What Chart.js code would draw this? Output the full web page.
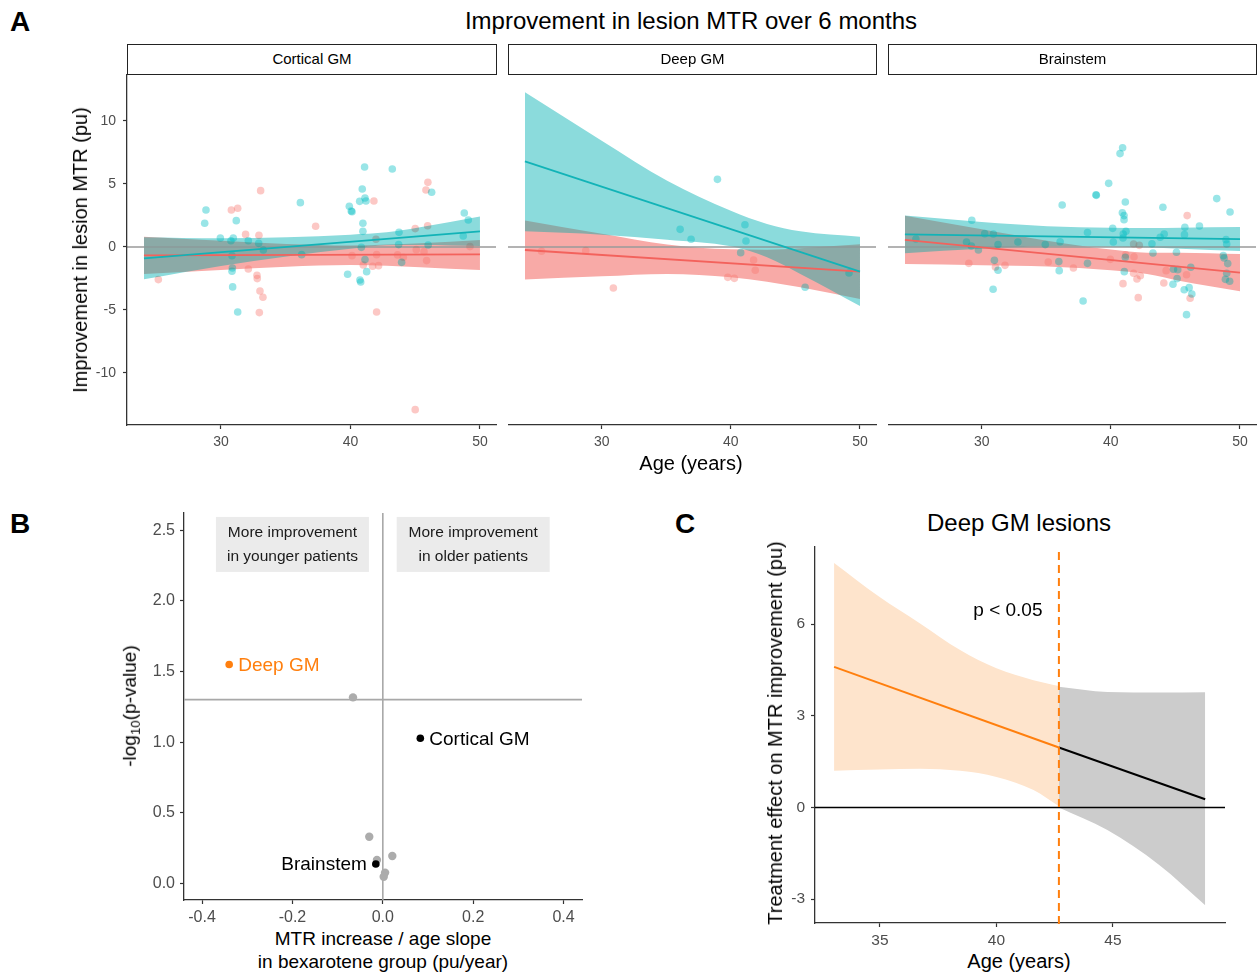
<!DOCTYPE html>
<html>
<head>
<meta charset="utf-8">
<title>Improvement in lesion MTR over 6 months</title>
<script src="https://cdn.jsdelivr.net/npm/chart.js@4.4.1/dist/chart.umd.min.js"></script>
<style>
  body { margin: 0; background: #fff; }
  #fig { position: relative; width: 1259px; height: 973px; overflow: hidden;
         font-family: "Liberation Sans", Arial, sans-serif; color: #000; }
  #fig canvas { position: absolute; }
  .lbl { position: absolute; white-space: nowrap; line-height: 1; transform: translate(-50%, -50%); }
  .rot { transform: translate(-50%, -50%) rotate(-90deg); }
  .letter { font-weight: bold; font-size: 28px; }
  .strip { position: absolute; top: 44px; height: 31px; box-sizing: border-box; border: 1.5px solid #222;
           font-size: 15px; line-height: 28px; text-align: center; background: #fff; }
  sub { font-size: 70%; vertical-align: -4px; }
</style>
</head>
<body>
<div id="fig">
  <canvas id="a1" width="420" height="380" style="left:80px;top:74px"></canvas>
  <canvas id="a2" width="372" height="380" style="left:508px;top:74px"></canvas>
  <canvas id="a3" width="371" height="380" style="left:888px;top:74px"></canvas>
  <canvas id="b" width="456" height="420" style="left:130px;top:505px"></canvas>
  <canvas id="c" width="459" height="410" style="left:770px;top:540px"></canvas>

  <div class="lbl letter" style="left:20px;top:22px">A</div>
  <div class="lbl letter" style="left:20px;top:524px">B</div>
  <div class="lbl letter" style="left:685px;top:524px">C</div>

  <div class="lbl" style="left:691px;top:21px;font-size:24px">Improvement in lesion MTR over 6 months</div>
  <div class="strip" style="left:127px;width:370px">Cortical GM</div>
  <div class="strip" style="left:508px;width:369px">Deep GM</div>
  <div class="strip" style="left:888px;width:369px">Brainstem</div>
  <div class="lbl rot" style="left:80px;top:250px;font-size:20px">Improvement in lesion MTR (pu)</div>
  <div class="lbl" style="left:691px;top:463px;font-size:20px">Age (years)</div>

  <div class="lbl rot" style="left:131px;top:706px;font-size:19px">-log<sub>10</sub>(p-value)</div>
  <div class="lbl" style="left:383px;top:938px;font-size:19px">MTR increase / age slope</div>
  <div class="lbl" style="left:383px;top:961px;font-size:19px">in bexarotene group (pu/year)</div>

  <div class="lbl" style="left:1019px;top:523px;font-size:24px">Deep GM lesions</div>
  <div class="lbl rot" style="left:775px;top:733px;font-size:20px">Treatment effect on MTR improvement (pu)</div>
  <div class="lbl" style="left:1019px;top:961px;font-size:20px">Age (years)</div>
</div>

<script>
const FONT = '"Liberation Sans", Arial, sans-serif';

// ---------- panel A : improvement vs age, per region ----------
const ageTicks = [30, 40, 50];
const mtrTicks = [-10, -5, 0, 5, 10];
const fitAges = [24.05, 50];
const bandAges = [24.05, 30, 35.07, 40, 42.8, 45.38, 50];

// cortical GM
const cortTeal = [[28.84,2.94],[28.74,1.88],[31.18,2.09],[29.95,0.71],[30.95,0.71],[30.77,0.50],[30.85,-0.69],
  [30.85,-1.93],[30.88,-1.67],[30.9,-3.17],[31.29,-5.16],[36.13,3.52],[39.91,3.23],[40.06,2.86],[40.12,2.80],
  [41.09,6.35],[43.23,6.19],[40.91,4.60],[40.71,3.62],[41.12,3.89],[41.2,3.65],[46.27,4.34],[40.96,1.88],
  [40.96,1.24],[40.84,-0.03],[39.78,-2.17],[40.73,-2.62],[40.79,-2.78],[41.25,-1.96],[43.75,1.16],[48.79,2.70],
  [49.1,2.14],[48.71,0.87],[46.0,0.16],[43.72,0.19],[43.95,-1.22],[32.11,0.50],[32.91,0.29],[33.27,-0.24],
  [36.23,-0.61],[41.12,-1.0]];
const cortRed = [[25.16,-2.59],[30.8,2.94],[31.29,3.07],[33.06,4.47],[31.9,1.0],[32.93,0.93],[32.11,-1.75],
  [32.78,-2.25],[32.8,-2.51],[33.01,-3.49],[33.24,-3.99],[32.96,-5.21],[37.31,1.64],[41.81,3.65],[40.12,-0.69],
  [41.71,-1.53],[42.17,-1.48],[42.02,-0.61],[42.02,-5.16],[45.0,1.46],[45.83,4.52],[45.98,5.13],[45.96,1.69],
  [45.88,-1.08],[45.68,-0.37],[45.0,-12.91],[43.64,-0.63],[44.08,-0.82],[49.23,0.03],[41.97,0.61],[40.99,-1.43],
  [45.08,-0.21]];
const cortTealFit = [-0.9, 1.24];
const cortRedFit = [-0.66, -0.58];
const cortTealHi = [0.77, 0.69, 0.77, 0.98, 1.16, 1.56, 2.41];
const cortTealLo = [-2.57, -1.51, -0.75, -0.15, 0.13, 0.16, 0.07];
const cortRedHi = [0.82, 0.50, 0.24, 0.11, 0.19, 0.29, 0.56];
const cortRedLo = [-2.14, -1.83, -1.56, -1.43, -1.48, -1.61, -1.83];

// deep GM
const deepTeal = [[38.96,5.37],[36.07,1.40],[41.09,1.77],[41.17,0.48],[36.92,0.61],[40.76,-0.45],[45.75,-3.2],[49.15,-2.06]];
const deepRed = [[25.34,-0.34],[28.76,-0.29],[30.9,-3.25],[39.76,-2.41],[40.27,-2.49],[41.76,-1.03],[41.89,-1.85]];
const deepTealFit = [6.8, -1.96];
const deepRedFit = [-0.24, -1.96];
const deepTealHi = [12.28, 8.44, 5.26, 2.88, 1.83, 1.24, 0.82];
const deepTealLo = [1.24, 0.98, 0.58, 0.05, -0.82, -2.14, -4.68];
const deepRedHi = [2.11, 1.06, 0.20, -0.19, -0.21, -0.10, 0.21];
const deepRedLo = [-2.59, -2.33, -2.14, -2.41, -2.75, -3.20, -4.13];

// brainstem
const brTeal = [[40.91,7.88],[40.71,7.41],[39.83,5.05],[38.85,4.15],[38.87,4.1],[36.23,3.33],[41.12,3.57],[44.03,3.15],
  [48.2,3.84],[49.23,2.78],[40.89,2.72],[41.02,2.49],[41.02,2.17],[29.23,2.12],[40.14,1.48],[41.17,1.24],[45.73,1.56],
  [46.86,1.67],[38.19,1.14],[30.23,1.06],[30.9,1.03],[40.96,1.03],[40.94,0.71],[44.13,1.03],[43.82,0.77],[40.19,0.40],
  [36.07,0.42],[43.18,0.26],[48.92,0.58],[48.97,0.24],[43.26,-0.48],[45.08,-0.42],[36.0,-1.88],[31.26,-1.85],
  [30.88,-3.36],[37.85,-4.29],[44.81,-2.96],[45.68,-3.39],[46.06,-3.23],[46.27,-3.73],[45.86,-5.37],[41.04,-1.96],
  [24.9,0.63],[28.82,0.4],[29.2,0.08],[29.74,-0.24],[31.26,0.19],[30.98,-1.06],[32.8,0.4],[34.92,0.19],[35.97,-1.16],
  [38.19,-1.3],[41.12,-0.82],[44.85,-1.77],[45.18,-1.8],[45.13,-2.51],[45.7,0.98],[46.19,-1.61],[48.71,-0.69],
  [48.77,-0.87],[49.05,-1.32],[48.97,-2.09],[48.87,-2.57],[49.2,-2.72]];
const brRed = [[45.91,2.49],[29.0,-1.3],[31.06,-1.59],[31.8,-1.46],[35.15,-1.19],[37.1,-1.67],[39.96,-0.98],
  [41.15,-0.63],[41.79,-0.77],[41.76,0.24],[42.2,0.13],[40.94,-2.91],[41.76,-2.09],[42.02,-2.54],[42.28,-2.28],
  [42.12,-4.02],[44.1,-2.86],[45.86,-2.2],[46.14,-4.07],[44.28,-1.88]];
const brTealFit = [1.0, 0.63];
const brRedFit = [0.56, -2.04];
const brTealHi = [2.49, 1.98, 1.65, 1.53, 1.50, 1.53, 1.58];
const brTealLo = [-0.50, -0.15, 0.04, 0.02, -0.04, -0.14, -0.32];
const brRedHi = [2.48, 1.40, 0.50, -0.20, -0.45, -0.46, -0.56];
const brRedLo = [-1.35, -1.45, -1.55, -1.85, -2.15, -2.70, -3.52];

// ---------- panel B : slope vs significance ----------
const bSlopeTicks = [-0.4, -0.2, 0, 0.2, 0.4];
const bLogPTicks = [0, 0.5, 1, 1.5, 2, 2.5];
const bSlopeGrey = [-0.066, -0.03, 0.021, -0.013, 0.005, 0.002];
const bLogPGrey = [1.317, 0.33, 0.194, 0.165, 0.076, 0.047];
const bRegions = ['Deep GM', 'Cortical GM', 'Brainstem'];
const bSlopeMain = [-0.34, 0.083, -0.0155];
const bLogPMain = [1.55, 1.027, 0.137];

// ---------- panel C : treatment effect in deep GM ----------
const cAgeTicks = [35, 40, 45];
const cEffTicks = [-3, 0, 3, 6];
const cFitAges = [33.03, 42.68, 48.96];
const cFit = [4.6, 1.96, 0.27];
const cSigAges = [33.03, 34.97, 36.72, 38.44, 40.0, 41.59, 42.68];
const cSigHi = [8.0, 6.89, 6.02, 5.15, 4.55, 4.16, 3.97];
const cSigLo = [1.20, 1.24, 1.27, 1.20, 1.00, 0.57, 0.04];
const cNsAges = [42.68, 44.76, 47.0, 48.96];
const cNsHi = [3.95, 3.78, 3.76, 3.77];
const cNsLo = [0.0, -0.74, -1.89, -3.2];

const ORANGE = '#ff7f0e';
const TICK = '#4d4d4d';
const AXIS = '#333';

function pts(arr) { return arr.map(p => ({ x: p[0], y: p[1] })); }
function curve(xs, ys) { return xs.map((x, i) => ({ x: x, y: ys[i] })); }

function axis(min, max, tickVals, fmt, size, pad, fontSize, show) {
  return {
    type: 'linear', min: min, max: max, display: show,
    afterBuildTicks: s => { s.ticks = tickVals.map(v => ({ value: v })); },
    afterFit: s => {
      if (show) {
        if (s.isHorizontal()) s.height = size; else s.width = size;
      } else {
        s.width = 0; s.height = 0;
      }
      s.paddingTop = 0; s.paddingBottom = 0; s.paddingLeft = 0; s.paddingRight = 0;
    },
    grid: { drawOnChartArea: false, color: AXIS, tickColor: AXIS, tickLength: 4, tickWidth: 1.2 },
    border: { display: true, color: AXIS, width: 1.3 },
    ticks: { color: TICK, font: { family: FONT, size: fontSize }, padding: pad, maxRotation: 0,
             autoSkip: false, callback: fmt }
  };
}

const baseOpts = {
  responsive: false, animation: false, events: [],
  plugins: { legend: { display: false }, tooltip: { enabled: false }, filler: { drawTime: 'beforeDatasetsDraw' } }
};

function layoutPad(top, right) {
  return { autoPadding: false, padding: { top: top, right: right, left: 0, bottom: 0 } };
}

// ribbons and points are blended with "darken" so overlaps turn grey as in the figure
const facetBlend = {
  id: 'facetBlend',
  beforeDraw(chart) { chart.ctx.globalCompositeOperation = 'darken'; },
  beforeDatasetsDraw(chart) {
    const { ctx, chartArea: a, scales: { y } } = chart;
    const y0 = y.getPixelForValue(0);
    ctx.save();
    ctx.strokeStyle = '#9a9a9a';
    ctx.lineWidth = 1.6;
    ctx.beginPath(); ctx.moveTo(a.left, y0); ctx.lineTo(a.right, y0); ctx.stroke();
    ctx.restore();
  },
  beforeDatasetDraw(chart, args) {
    chart.ctx.globalCompositeOperation = chart.data.datasets[args.index].blend ? 'darken' : 'source-over';
  },
  afterDraw(chart) { chart.ctx.globalCompositeOperation = 'source-over'; }
};

function band(xs, ys, color, fillNext) {
  return { data: curve(xs, ys), fill: fillNext ? '+1' : false, backgroundColor: color,
           borderColor: 'rgba(0,0,0,0)', borderWidth: 0, pointRadius: 0,
           cubicInterpolationMode: 'monotone', blend: true };
}

function facet(id, f, showY) {
  return new Chart(document.getElementById(id), {
    type: 'line',
    data: {
      datasets: [
        { label: 'bexarotene fit', data: curve(fitAges, f.tealFit), borderColor: '#12b3b7', borderWidth: 1.8, pointRadius: 0 },
        { label: 'placebo fit', data: curve(fitAges, f.redFit), borderColor: '#f3625c', borderWidth: 1.8, pointRadius: 0 },
        { label: 'bexarotene', data: pts(f.teal), showLine: false, pointRadius: 3.8, pointBorderWidth: 0,
          pointBackgroundColor: 'rgba(0,191,196,0.4)', pointBorderColor: 'rgba(0,0,0,0)', blend: true },
        { label: 'placebo', data: pts(f.red), showLine: false, pointRadius: 3.8, pointBorderWidth: 0,
          pointBackgroundColor: 'rgba(248,118,109,0.4)', pointBorderColor: 'rgba(0,0,0,0)', blend: true },
        band(bandAges, f.tealHi, 'rgb(139,219,220)', true),
        band(bandAges, f.tealLo, 'rgb(139,219,220)', false),
        band(bandAges, f.redHi, 'rgb(248,170,167)', true),
        band(bandAges, f.redLo, 'rgb(248,170,167)', false)
      ]
    },
    options: Object.assign({}, baseOpts, {
      layout: layoutPad(0, id === 'a3' ? 3 : 4),
      scales: {
        x: axis(22.74, 51.24, ageTicks, v => String(v), 29, 5, 14, true),
        y: axis(-14.13, 13.73, mtrTicks, v => String(v), 47, 7, 14, showY)
      }
    }),
    plugins: [facetBlend]
  });
}

facet('a1', { teal: cortTeal, red: cortRed, tealFit: cortTealFit, redFit: cortRedFit,
              tealHi: cortTealHi, tealLo: cortTealLo, redHi: cortRedHi, redLo: cortRedLo }, true);
facet('a2', { teal: deepTeal, red: deepRed, tealFit: deepTealFit, redFit: deepRedFit,
              tealHi: deepTealHi, tealLo: deepTealLo, redHi: deepRedHi, redLo: deepRedLo }, false);
facet('a3', { teal: brTeal, red: brRed, tealFit: brTealFit, redFit: brRedFit,
              tealHi: brTealHi, tealLo: brTealLo, redHi: brRedHi, redLo: brRedLo }, false);

// ---------- panel B ----------
const bDecor = {
  id: 'bDecor',
  beforeDatasetsDraw(chart) {
    const { ctx, chartArea: a, scales: { x, y } } = chart;
    const x0 = x.getPixelForValue(0);
    const yS = y.getPixelForValue(-Math.log10(0.05));
    ctx.save();
    ctx.strokeStyle = '#a8a8a8';
    ctx.lineWidth = 1.6;
    ctx.beginPath();
    ctx.moveTo(x0, a.top); ctx.lineTo(x0, a.bottom);
    ctx.moveTo(a.left, yS); ctx.lineTo(a.right, yS);
    ctx.stroke();
    const boxes = [[-0.2, 'More improvement', 'in younger patients'], [0.2, 'More improvement', 'in older patients']];
    ctx.font = '15.5px ' + FONT;
    ctx.textAlign = 'center';
    ctx.textBaseline = 'middle';
    boxes.forEach(b => {
      const cx = x.getPixelForValue(b[0]), cy = y.getPixelForValue(2.4);
      ctx.fillStyle = '#ebebeb';
      ctx.fillRect(cx - 76.5, cy - 27.5, 153, 55);
      ctx.fillStyle = '#1a1a1a';
      ctx.fillText(b[1], cx, cy - 11.5);
      ctx.fillText(b[2], cx, cy + 12);
    });
    ctx.restore();
  },
  afterDatasetsDraw(chart) {
    const { ctx, scales: { x, y } } = chart;
    const colors = [ORANGE, '#000', '#000'];
    const side = [1, 1, -1];
    ctx.save();
    ctx.font = '19px ' + FONT;
    ctx.textBaseline = 'middle';
    bRegions.forEach((name, i) => {
      const px = x.getPixelForValue(bSlopeMain[i]), py = y.getPixelForValue(bLogPMain[i]);
      ctx.fillStyle = colors[i];
      ctx.textAlign = side[i] > 0 ? 'left' : 'right';
      ctx.fillText(name, px + side[i] * 9, py + 1);
    });
    ctx.restore();
  }
};

new Chart(document.getElementById('b'), {
  type: 'scatter',
  data: {
    datasets: [
      { label: 'highlighted', data: bSlopeMain.map((v, i) => ({ x: v, y: bLogPMain[i] })),
        pointRadius: 3.8, pointBorderWidth: 0, pointBackgroundColor: [ORANGE, '#000', '#000'] },
      { label: 'other regions', data: bSlopeGrey.map((v, i) => ({ x: v, y: bLogPGrey[i] })),
        pointRadius: 4.2, pointBorderWidth: 0, pointBackgroundColor: '#acacac' }
    ]
  },
  options: Object.assign({}, baseOpts, {
    layout: layoutPad(8, 4),
    scales: {
      x: axis(-0.44, 0.4408, bSlopeTicks, v => v.toFixed(1), 25, 4, 16, true),
      y: axis(-0.118, 2.6225, bLogPTicks, v => v.toFixed(1), 54, 5, 16, true)
    }
  }),
  plugins: [bDecor]
});

// ---------- panel C ----------
const cDecor = {
  id: 'cDecor',
  afterDatasetsDraw(chart) {
    const { ctx, chartArea: a, scales: { x, y } } = chart;
    const y0 = y.getPixelForValue(0);
    const xs = x.getPixelForValue(cFitAges[1]);
    ctx.save();
    ctx.strokeStyle = '#000';
    ctx.lineWidth = 1.6;
    ctx.beginPath(); ctx.moveTo(a.left, y0); ctx.lineTo(a.right, y0); ctx.stroke();
    ctx.strokeStyle = ORANGE;
    ctx.lineWidth = 2;
    ctx.setLineDash([8, 5]);
    ctx.beginPath(); ctx.moveTo(xs, a.top + 5); ctx.lineTo(xs, a.bottom + 3); ctx.stroke();
    ctx.setLineDash([]);
    ctx.fillStyle = '#000';
    ctx.font = '19px ' + FONT;
    ctx.textAlign = 'center';
    ctx.textBaseline = 'middle';
    ctx.fillText('p < 0.05', x.getPixelForValue(40.49), y.getPixelForValue(6.45));
    ctx.restore();
  }
};

new Chart(document.getElementById('c'), {
  type: 'line',
  data: {
    datasets: [
      { label: 'significant', data: curve(cFitAges.slice(0, 2), cFit.slice(0, 2)), borderColor: ORANGE, borderWidth: 2, pointRadius: 0 },
      { label: 'not significant', data: curve(cFitAges.slice(1), cFit.slice(1)), borderColor: '#000', borderWidth: 2, pointRadius: 0 },
      band(cSigAges, cSigHi, 'rgb(254,228,204)', true),
      band(cSigAges, cSigLo, 'rgb(254,228,204)', false),
      band(cNsAges, cNsHi, 'rgb(204,204,204)', true),
      band(cNsAges, cNsLo, 'rgb(204,204,204)', false)
    ]
  },
  options: Object.assign({}, baseOpts, {
    layout: layoutPad(7, 4),
    scales: {
      x: axis(32.21, 49.81, cAgeTicks, v => String(v), 27, 4, 15.5, true),
      y: axis(-3.78, 8.52, cEffTicks, v => String(v), 45, 6, 15.5, true)
    }
  }),
  plugins: [cDecor]
});
</script>
</body>
</html>
